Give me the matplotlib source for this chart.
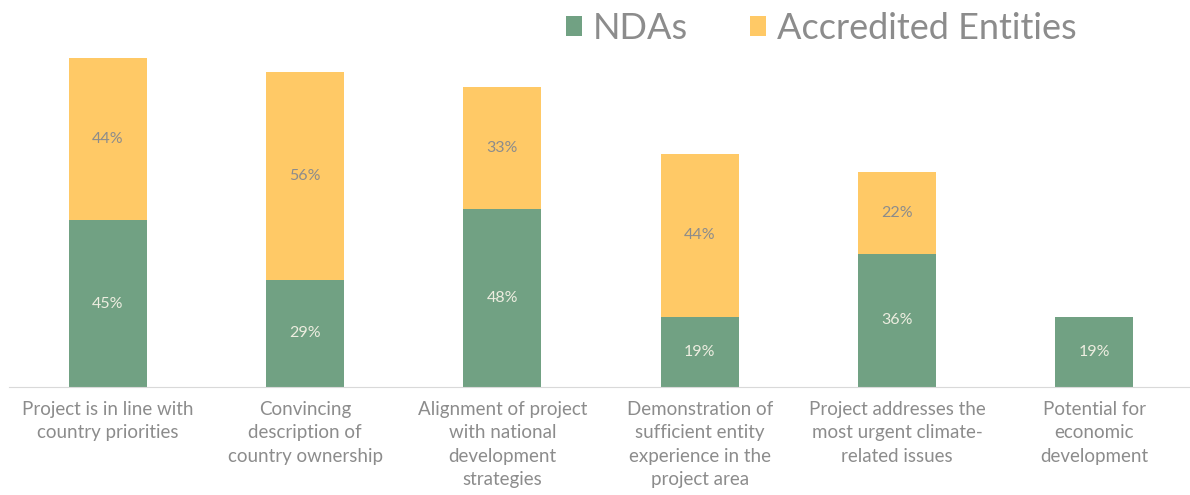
import matplotlib.pyplot as plt
import numpy as np

categories = [
    "Project is in line with\ncountry priorities",
    "Convincing\ndescription of\ncountry ownership",
    "Alignment of project\nwith national\ndevelopment\nstrategies",
    "Demonstration of\nsufficient entity\nexperience in the\nproject area",
    "Project addresses the\nmost urgent climate-\nrelated issues",
    "Potential for\neconomic\ndevelopment",
]
ndas = [45, 29, 48, 19, 36, 19]
accredited = [44, 56, 33, 44, 22, 0]

green = "#71A183"
yellow = "#FFC966"
grey = "#8C8C8C"

plt.rcParams["font.family"] = ["Lato", "DejaVu Sans"]

fig = plt.figure(figsize=(11.9, 4.95), dpi=100)
ax = fig.add_axes([0.0076, 0.218, 0.995, 0.748])

x = np.arange(len(categories))
w = 0.396
b1 = ax.bar(x, ndas, w, color=green, label="NDAs")
b2 = ax.bar(x, accredited, w, bottom=ndas, color=yellow, label="Accredited Entities")

for i in range(len(categories)):
    if ndas[i]:
        ax.text(x[i], ndas[i] / 2, f"{ndas[i]}%", ha="center", va="center",
                color="#EDEDE0", fontsize=11.5)
    if accredited[i]:
        ax.text(x[i], ndas[i] + accredited[i] / 2, f"{accredited[i]}%", ha="center",
                va="center", color=grey, fontsize=11.5)

ax.set_xlim(-0.5, 5.5)
ax.set_ylim(0, 100)
ax.set_yticks([])
ax.set_xticks(x)
ax.set_xticklabels(categories, fontsize=13.5, color=grey, linespacing=1.45, va="top")
ax.tick_params(axis="x", length=0, pad=10)
for s in ["top", "right", "left"]:
    ax.spines[s].set_visible(False)
ax.spines["bottom"].set_color("#D9D9D9")

fig.legend(handles=[b1, b2], loc="center", bbox_to_anchor=(0.69, 0.943), ncol=2,
           frameon=False, fontsize=26, labelcolor=grey, handlelength=0.45,
           handleheight=0.45, handletextpad=0.3, columnspacing=1.7)

fig.savefig("out.png", dpi=100)
